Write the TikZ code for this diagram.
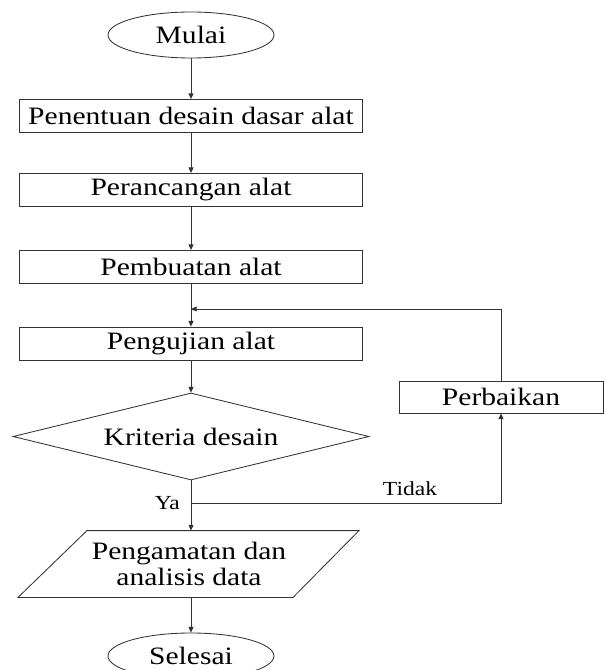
\documentclass[tikz,border=0pt]{standalone}
\usepackage{fontspec}
\setmainfont{Liberation Serif}[FakeStretch=1.18]
\usepackage{tikz}
\usetikzlibrary{positioning,arrows.meta,shapes.geometric,calc}

\begin{document}
\begin{tikzpicture}[
  font=\fontsize{17.8}{18.5}\selectfont,>={Triangle[length=4pt,width=3.5pt]},
  line width=0.6pt,
  box/.style={draw=black!80,minimum width=8.575cm,minimum height=0.825cm,inner sep=0pt},
  term/.style={draw=black!80,ellipse,minimum width=4.15cm,minimum height=1.15cm,inner sep=0pt},
  decide/.style={draw=black!80,diamond,shape aspect=4.09,minimum width=8.9cm,
                 minimum height=2.175cm,inner sep=0pt},
  io/.style={minimum height=1.65cm,align=center,inner sep=0pt},
  lbl/.style={font=\fontsize{14.2}{17}\selectfont},
  arr/.style={->,draw=black!80},
]
  \useasboundingbox (0,0) rectangle (15.125,-16.75);

  \node[term] (mulai) at (4.775,-0.875) {Mulai};
  \node[box] (tentu) at (4.775,-2.9) {Penentuan desain dasar alat};
  \node[box] (rancang) at (4.775,-4.75) {Perancangan alat};
  \node[box] (buat) at (4.775,-6.675) {Pembuatan alat};
  \node[box] (uji) at (4.775,-8.5875) {Pengujian alat};
  \node[decide] (kriteria) at (4.775,-10.9125) {Kriteria desain};
  \node[box,minimum width=5.1cm,minimum height=0.8cm] (baiki) at (12.525,-9.925) {Perbaikan};
  \node[io] (amati) at (4.725,-14.1) {Pengamatan dan\\analisis data};
  \node[term] (selesai) at (4.775,-16.4) {Selesai};

  % jajaran genjang untuk input/output
  \draw[draw=black!80] ($(amati.north)+(-2.55,0)$) -- ($(amati.north)+(4.25,0)$)
    -- ($(amati.south)+(2.6,0)$) -- ($(amati.south)+(-4.275,0)$) -- cycle;

  \coordinate (balik) at (4.775,-7.725);
  \coordinate (cabang) at (4.775,-12.575);

  \draw[arr] (mulai) -- (tentu);
  \draw[arr] (tentu) -- (rancang);
  \draw[arr] (rancang) -- (buat);
  \draw[arr] (buat) -- (uji);
  \draw[arr] (uji) -- (kriteria);
  \draw[arr] (kriteria) -- (cabang |- amati.north);
  \draw[arr] (cabang |- amati.south) -- (selesai);
  \draw[arr] (baiki.north) |- (balik);
  \draw[arr] (cabang) -| (baiki.south);

  \node[lbl,anchor=east] (ya) at ($(cabang)+(-0.15,0)$) {Ya};
  \node[lbl] (tidak) at (10.25,-12.225) {Tidak};
\end{tikzpicture}
\end{document}
